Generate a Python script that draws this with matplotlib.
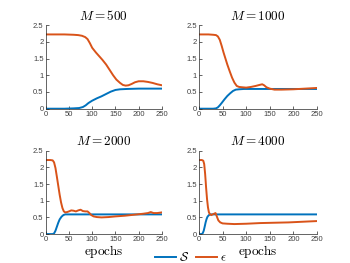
import matplotlib
matplotlib.use("Agg")
import matplotlib.pyplot as plt
from matplotlib.lines import Line2D

plt.rcParams['mathtext.fontset'] = 'cm'
plt.rcParams['font.family'] = ['Liberation Sans', 'DejaVu Sans']

BLUE = '#0072BD'
ORANGE = '#D95319'

titles = ['$M = 500$', '$M = 1000$', '$M = 2000$', '$M = 4000$']

# M = 500
e500_x = [0, 20, 40, 60, 70, 78, 85, 90, 95, 100, 108, 115, 122, 130, 138, 145, 152, 160, 166, 172, 178, 185, 192, 200, 210, 220, 230, 240, 250]
e500_y = [2.22, 2.22, 2.22, 2.21, 2.2, 2.18, 2.14, 2.08, 1.96, 1.82, 1.68, 1.57, 1.46, 1.32, 1.15, 1.0, 0.87, 0.77, 0.71, 0.69, 0.7, 0.74, 0.79, 0.82, 0.82, 0.8, 0.77, 0.73, 0.7]
s500_x = [0, 40, 60, 72, 80, 86, 92, 100, 110, 120, 130, 140, 150, 160, 175, 200, 250]
s500_y = [0.0, 0.0, 0.01, 0.02, 0.05, 0.1, 0.17, 0.24, 0.31, 0.37, 0.44, 0.51, 0.56, 0.58, 0.59, 0.6, 0.6]

# M = 1000
e1000_x = [0, 20, 30, 36, 40, 44, 48, 52, 56, 60, 65, 70, 75, 80, 85, 92, 100, 110, 120, 128, 134, 138, 143, 150, 160, 175, 200, 225, 250]
e1000_y = [2.22, 2.22, 2.21, 2.2, 2.16, 2.06, 1.88, 1.68, 1.5, 1.32, 1.12, 0.93, 0.78, 0.68, 0.65, 0.64, 0.63, 0.65, 0.68, 0.71, 0.73, 0.7, 0.64, 0.6, 0.57, 0.57, 0.58, 0.6, 0.62]
s1000_x = [0, 30, 36, 40, 44, 48, 54, 60, 66, 72, 78, 85, 95, 120, 250]
s1000_y = [0.0, 0.0, 0.01, 0.04, 0.1, 0.17, 0.28, 0.38, 0.46, 0.53, 0.57, 0.58, 0.59, 0.59, 0.59]

# M = 2000
e2000_x = [0, 10, 15, 18, 21, 24, 27, 30, 33, 36, 39, 42, 46, 50, 55, 60, 65, 70, 75, 80, 85, 90, 94, 98, 103, 110, 120, 135, 150, 170, 190, 210, 220, 226, 232, 240, 250]
e2000_y = [2.22, 2.22, 2.21, 2.15, 1.98, 1.72, 1.45, 1.18, 0.95, 0.78, 0.68, 0.65, 0.66, 0.68, 0.71, 0.7, 0.68, 0.71, 0.73, 0.69, 0.68, 0.68, 0.63, 0.57, 0.53, 0.51, 0.5, 0.51, 0.53, 0.55, 0.58, 0.61, 0.63, 0.66, 0.63, 0.63, 0.65]
s2000_x = [0, 15, 18, 21, 24, 27, 30, 34, 38, 42, 50, 250]
s2000_y = [0.0, 0.0, 0.02, 0.1, 0.22, 0.34, 0.44, 0.52, 0.57, 0.59, 0.59, 0.59]

# M = 4000
e4000_x = [0, 6, 9, 11, 13, 15, 17, 19, 21, 23, 26, 29, 32, 35, 38, 41, 45, 50, 60, 75, 100, 130, 160, 190, 220, 250]
e4000_y = [2.22, 2.22, 2.2, 2.1, 1.8, 1.4, 1.05, 0.8, 0.65, 0.6, 0.57, 0.59, 0.61, 0.63, 0.52, 0.41, 0.35, 0.32, 0.31, 0.3, 0.31, 0.33, 0.34, 0.35, 0.37, 0.39]
s4000_x = [0, 6, 8, 10, 12, 14, 16, 18, 21, 25, 30, 250]
s4000_y = [0.0, 0.0, 0.03, 0.1, 0.22, 0.35, 0.45, 0.52, 0.57, 0.59, 0.59, 0.59]

S_x = [s500_x, s1000_x, s2000_x, s4000_x]
S_y = [s500_y, s1000_y, s2000_y, s4000_y]
E_x = [e500_x, e1000_x, e2000_x, e4000_x]
E_y = [e500_y, e1000_y, e2000_y, e4000_y]

xticks = [0, 50, 100, 150, 200, 250]
yticks = [0, 0.5, 1, 1.5, 2, 2.5]
yticklabels = ['0', '0.5', '1', '1.5', '2', '2.5']

fig = plt.figure(figsize=(3.5, 2.63), dpi=100)
positions = [
    [0.1306, 0.5867, 0.332, 0.318],
    [0.5686, 0.5867, 0.337, 0.318],
    [0.1306, 0.110, 0.332, 0.317],
    [0.5686, 0.110, 0.337, 0.317],
]

LW = 1.4
for i in range(4):
    ax = fig.add_axes(positions[i])
    ax.plot(S_x[i], S_y[i], color=BLUE, lw=LW)
    ax.plot(E_x[i], E_y[i], color=ORANGE, lw=LW)
    ax.set_xlim(0, 250)
    ax.set_ylim(0, 2.5)
    ax.set_xticks(xticks)
    ax.set_yticks(yticks)
    ax.set_yticklabels(yticklabels)
    ax.spines['top'].set_visible(False)
    ax.spines['right'].set_visible(False)
    for s in ['left', 'bottom']:
        ax.spines[s].set_linewidth(0.5)
        ax.spines[s].set_color('#262626')
    ax.tick_params(direction='in', length=2, width=0.5, labelsize=5.5, pad=1.5,
                   colors='#262626', labelcolor='#404040')
    ax.set_title(titles[i], fontsize=9.5, pad=4)
    if i >= 2:
        ax.set_xlabel(r'$\mathrm{epochs}$', fontsize=9.5, labelpad=0)

handles = [Line2D([], [], color=BLUE, lw=LW), Line2D([], [], color=ORANGE, lw=LW)]
fig.legend(handles, [r'$\mathcal{S}$', r'$\epsilon$'], loc='center', ncol=2,
           bbox_to_anchor=(0.545, 0.02), frameon=False, fontsize=9,
           handlelength=1.7, handletextpad=0.2, columnspacing=0.6, borderpad=0)

fig.savefig('out.png', dpi=100)
